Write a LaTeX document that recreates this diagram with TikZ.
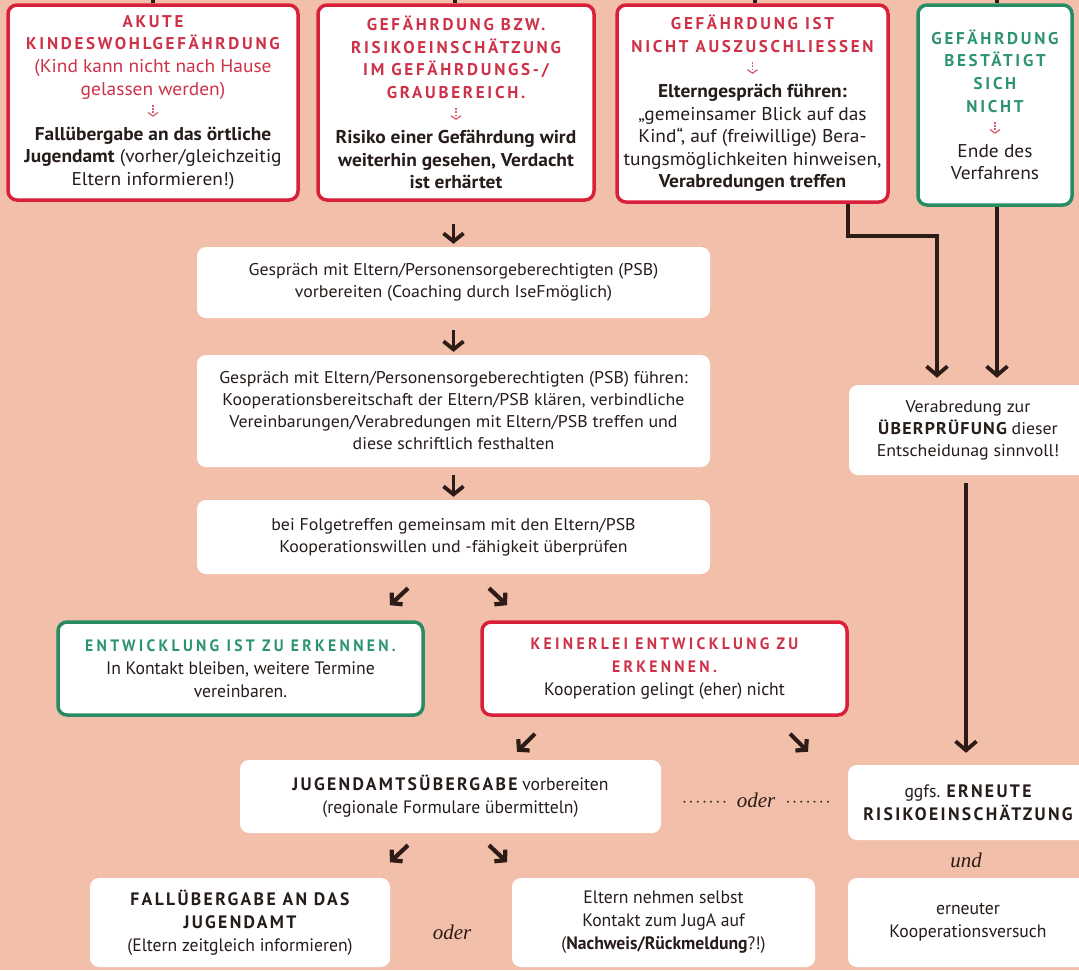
\documentclass[tikz,border=0pt]{standalone}
\usepackage{fontspec}
\setmainfont[FakeStretch=1.05]{PT Sans}
\newfontfamily\condf[FakeStretch=0.98]{PT Sans}
\newfontfamily\spacedf[LetterSpace=16]{PT Sans}
\newfontfamily\vspacedf[FakeStretch=1.05,LetterSpace=7]{PT Sans}
\newfontfamily\condspacedf[FakeStretch=0.98,LetterSpace=13]{PT Sans}
\newfontfamily\condtitlef[FakeStretch=0.95,LetterSpace=20]{PT Sans}
\newfontfamily\serifitf{Liberation Serif}
\usetikzlibrary{arrows.meta,calc}
\definecolor{bg}{RGB}{242,191,171}
\definecolor{rbord}{RGB}{216,32,58}
\definecolor{gbord}{RGB}{40,140,98}
\definecolor{rtext}{RGB}{205,50,72}
\definecolor{gtext}{RGB}{45,148,112}
\definecolor{ink}{RGB}{38,28,26}
\definecolor{dline}{RGB}{45,28,22}
\newcommand\myrt[1]{{\spacedf\bfseries\fontsize{17}{22.6}\selectfont\color{rtext}#1}}
\newcommand\mygt[1]{{\spacedf\bfseries\fontsize{17}{22.6}\selectfont\color{gtext}#1}}
\newcommand\myrtc[1]{{\condtitlef\bfseries\fontsize{16.5}{23}\selectfont\color{rtext}#1}}
\newcommand\mygtc[1]{{\condtitlef\bfseries\fontsize{16.5}{23}\selectfont\color{gtext}#1}}
\newcommand\myrc[1]{{\color{rtext}#1}}
\newcommand\myspb[1]{{\vspacedf\bfseries #1}}
\newcommand\mycsb[1]{{\condspacedf\bfseries #1}}
\newcommand\mydnarr{\tikz[baseline=0pt]\draw[rtext!80, line width=1.2pt, dash pattern=on 1.8pt off 1.5pt, -{Straight Barb[length=3.5pt,width=10pt]}] (0pt,13pt) -- (0pt,1pt);}
\newcommand\mydots{{\fontsize{16}{16}\selectfont ·\,·\,·\,·\,·\,·\,·}}
\tikzset{
  box/.style={fill=white, rounded corners=9pt, align=center, inner sep=0pt, text=ink},
  redbox/.style={box, draw=rbord, line width=3.5pt},
  greenbox/.style={box, draw=gbord, line width=3.5pt},
  topfont/.style={font=\fontsize{18.5}{22.6}\selectfont},
  midfont/.style={font=\fontsize{17}{22}\selectfont},
  condfont/.style={font=\condf\fontsize{18}{23}\selectfont},
  wire/.style={draw=dline, line width=3.8pt},
  conn/.style={wire, -{Straight Barb[length=9pt,width=21pt]}},
  sarr/.style={wire, -{Straight Barb[length=8pt,width=20pt]}},
  darr/.style={wire, line width=4.2pt, -{Straight Barb[length=7pt,width=16pt]}},
  lbl/.style={font=\serifitf\itshape\fontsize{21}{24}\selectfont, text=dline}
}
\begin{document}
\begin{tikzpicture}[x=1pt,y=-1pt]
\fill[bg] (0,0) rectangle (1079,970);
\useasboundingbox (0,0) rectangle (1079,970);

% top row
\node[redbox, topfont, minimum width=290, minimum height=195] (b1) at (153,102.5)
 {\myrt{AKUTE}\\ \myrt{KINDESWOHLGEFÄHRDUNG}\\ \myrc{(Kind kann nicht nach Hause}\\ \myrc{gelassen werden)}\\ \mydnarr\\
  \textbf{Fallübergabe an das örtliche}\\ \textbf{Jugendamt} (vorher/gleichzeitig\\ Eltern informieren!)};
\node[redbox, topfont, minimum width=276, minimum height=195] (b2) at (456,102.5)
 {\myrt{GEFÄHRDUNG BZW.}\\ \myrt{RISIKOEINSCHÄTZUNG}\\ \myrt{IM GEFÄHRDUNGS-/}\\ \myrt{GRAUBEREICH.}\\ \mydnarr\\
  \textbf{Risiko einer Gefährdung wird}\\ \textbf{weiterhin gesehen, Verdacht}\\ \textbf{ist erhärtet}};
\node[redbox, topfont, minimum width=271, minimum height=197] (b3) at (752.5,103.5)
 {\myrt{GEFÄHRDUNG IST}\\ \myrt{NICHT AUSZUSCHLIESSEN}\\ \mydnarr\\ \textbf{Elterngespräch führen:}\\
  „gemeinsamer Blick auf das\\ Kind“, auf (freiwillige) Bera-\\ tungsmöglichkeiten hinweisen,\\ \textbf{Verabredungen treffen}};
\node[greenbox, topfont, minimum width=154, minimum height=200] (b4) at (995,105)
 {\mygt{GEFÄHRDUNG}\\ \mygt{BESTÄTIGT}\\ \mygt{SICH}\\ \mygt{NICHT}\\ \mydnarr\\ Ende des\\ Verfahrens};

% middle column
\node[box, midfont, minimum width=513, minimum height=71] (g1) at (453.5,282.5)
 {Gespräch mit Eltern/Personensorgeberechtigten (PSB)\\ vorbereiten (Coaching durch IseFmöglich)};
\node[box, midfont, minimum width=513, minimum height=112] (g2) at (453.5,411)
 {Gespräch mit Eltern/Personensorgeberechtigten (PSB) führen:\\ Kooperationsbereitschaft der Eltern/PSB klären, verbindliche\\
  Vereinbarungen/Verabredungen mit Eltern/PSB treffen und\\ diese schriftlich festhalten};
\node[box, midfont, minimum width=513, minimum height=74] (g3) at (453.5,537)
 {bei Folgetreffen gemeinsam mit den Eltern/PSB\\ Kooperationswillen und -fähigkeit überprüfen};

\node[greenbox, condfont, minimum width=365, minimum height=93] (e) at (240.5,668.5)
 {\mygtc{ENTWICKLUNG IST ZU ERKENNEN.}\\ In Kontakt bleiben, weitere Termine\\ vereinbaren.};
\node[redbox, condfont, minimum width=365, minimum height=93] (k) at (664.5,668.5)
 {\myrtc{KEINERLEI ENTWICKLUNG ZU}\\ \myrtc{ERKENNEN.}\\ Kooperation gelingt (eher) nicht};

\node[box, condfont, minimum width=421, minimum height=73] (j) at (450.5,796.5)
 {\mycsb{JUGENDAMTSÜBERGABE} vorbereiten\\ (regionale Formulare übermitteln)};

\node[box, condfont, minimum width=300, minimum height=89] (f) at (240,922.5)
 {\mycsb{FALLÜBERGABE AN DAS}\\ \mycsb{JUGENDAMT}\\ (Eltern zeitgleich informieren)};
\node[box, condfont, minimum width=303, minimum height=89] (n) at (663.5,922.5)
 {Eltern nehmen selbst\\ Kontakt zum JugA auf\\ (\textbf{Nachweis/Rückmeldung}?!)};

% right column
\node[box, midfont, minimum width=238, minimum height=90] (v) at (968,430)
 {Verabredung zur\\ \myspb{ÜBERPRÜFUNG} dieser\\ Entscheidunag sinnvoll!};
\node[box, condfont, minimum width=240, minimum height=75] (r) at (968,802.5)
 {ggfs. \mycsb{ERNEUTE}\\ \mycsb{RISIKOEINSCHÄTZUNG}};
\node[box, condfont, minimum width=240, minimum height=89] (c) at (968,922.5)
 {erneuter\\ Kooperationsversuch};

% labels
\node[lbl] (oder1) at (756,800) {\mydots\ \ oder\ \ \mydots};
\node[lbl] (und) at (966,860) {und};
\node[lbl] (oder2) at (452,932) {oder};

% incoming lines from above
\coordinate (t1) at (153,-5);
\coordinate (t2) at (455,-5);
\coordinate (t3) at (755,-5);
\coordinate (t4) at (997,-5);
\draw[wire] (t1) -- (t1 |- b1.north);
\draw[wire] (t2) -- (t2 |- b2.north);
\draw[wire] (t3) -- (t3 |- b3.north);
\draw[wire] (t4) -- (t4 |- b4.north);

% right side connectors
\coordinate (k1) at (848,236);
\coordinate (k2) at (937,236);
\coordinate (k3) at (966,0);
\draw[conn, shorten >=7pt] (b3.south -| k1) -- (k1) -- (k2) -- (k2 |- v.north);
\draw[conn, shorten >=7pt] (b4.south -| t4) -- (t4 |- v.north);
\draw[conn, shorten <=8pt, shorten >=12pt] (v.south -| k3) -- (r.north -| k3);

% short arrows in the middle column
\draw[sarr, shorten <=22pt, shorten >=3pt] (b2.south -| g1.north) -- (g1.north);
\draw[sarr, shorten <=12pt, shorten >=3pt] (g1.south) -- (g2.north);
\draw[sarr, shorten <=8pt, shorten >=3pt] (g2.south) -- (g3.north);

% diagonal arrows
\draw[darr] ($(g3.south)+(-45.5,14)$) -- ($(g3.south)+(-63.5,31)$);
\draw[darr] ($(g3.south)+(35.5,14)$) -- ($(g3.south)+(53.5,31)$);
\draw[darr] ($(k.south)+(-129.5,17)$) -- ($(k.south)+(-147.5,35)$);
\draw[darr] ($(k.south)+(125.5,17)$) -- ($(k.south)+(143.5,35)$);
\draw[darr] ($(j.south)+(-42.5,12)$) -- ($(j.south)+(-60.5,29)$);
\draw[darr] ($(j.south)+(38.5,12)$) -- ($(j.south)+(56.5,29)$);
\end{tikzpicture}
\end{document}
